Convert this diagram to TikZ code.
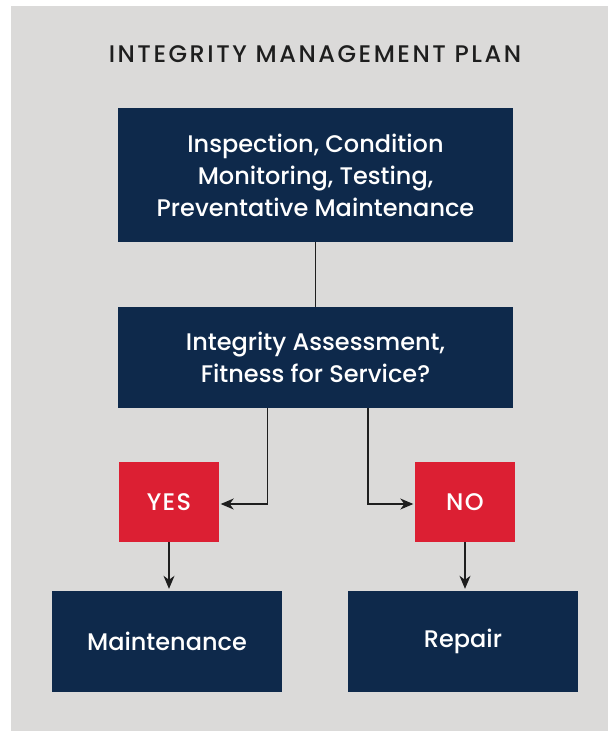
\documentclass[tikz,border=0pt]{standalone}
\usepackage{fontspec}
\setmainfont{Poppins}[UprightFont={* Medium}]
\usetikzlibrary{arrows.meta,calc}
\definecolor{navy}{RGB}{14,41,75}
\definecolor{redbox}{RGB}{220,31,51}
\definecolor{panel}{RGB}{219,218,217}
\definecolor{ink}{RGB}{30,30,30}
\tikzset{
  navybox/.style={fill=navy,text=white,inner sep=0pt,align=center,
    font=\fontsize{24}{32}\selectfont},
  redlabel/.style={fill=redbox,text=white,inner sep=0pt,align=center,
    minimum width=100pt,minimum height=80pt,
    font=\fontsize{24}{32}\selectfont\addfontfeatures{LetterSpace=6}},
  conn/.style={draw=ink,line width=1.3pt},
  arr/.style={conn,-{Stealth[length=13pt,width=11pt,inset=4pt]},shorten >=1.5pt}
}
\begin{document}
\begin{tikzpicture}[x=1pt,y=-1pt]
\useasboundingbox (0,0) rectangle (608,731);
\fill[panel] (11,6) rectangle (608,731);
\node[font=\fontsize{24}{25}\selectfont\addfontfeatures{LetterSpace=10.5},text=ink] (title) at (315,54) {INTEGRITY MANAGEMENT PLAN};
\node[navybox,minimum width=395pt,minimum height=134pt] (box1) at (315.5,175)
  {Inspection, Condition\\Monitoring, Testing,\\Preventative Maintenance};
\node[navybox,minimum width=395pt,minimum height=101pt] (box2) at (315.5,357.3)
  {Integrity Assessment,\\Fitness for Service?};
\node[redlabel] (yes) at (169,502) {YES};
\node[redlabel] (no) at (465,502) {NO};
\node[navybox,minimum width=230pt,minimum height=101pt] (maint) at (167,641) {Maintenance};
\node[navybox,minimum width=230pt,minimum height=101pt] (repair) at (463,641) {Repair};
\draw[conn] (box1.south) -- (box2.north);
\draw[arr] ($(box2.south)+(-48,0)$) |- ($(yes.east)+(0,2)$);
\draw[arr] ($(box2.south)+(52.5,0)$) |- ($(no.west)+(0,2)$);
\draw[arr] (yes.south) -- (yes.south |- maint.north);
\draw[arr] (no.south) -- (no.south |- repair.north);
\end{tikzpicture}
\end{document}
